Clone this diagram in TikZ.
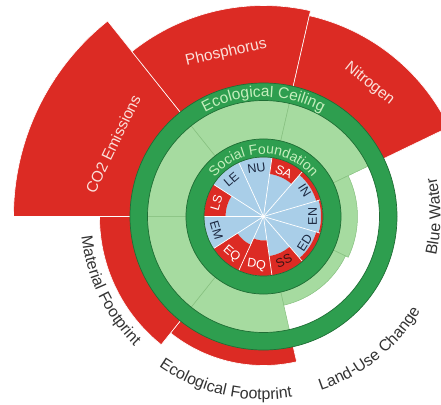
\documentclass[tikz,border=0pt]{standalone}
\usepackage{fontspec}
\setmainfont{Liberation Sans}
\usetikzlibrary{decorations.text}
\definecolor{rouge}{HTML}{DC2B24}
\definecolor{rougesombre}{HTML}{3A1414}
\definecolor{vertfonce}{HTML}{2E9E4F}
\definecolor{vertsombre}{HTML}{1F6E35}
\definecolor{vertclair}{HTML}{A6DBA0}
\definecolor{vertligne}{HTML}{86C07F}
\definecolor{vertpale}{HTML}{C4EEBC}
\definecolor{bleuclair}{HTML}{A9CEE8}
\definecolor{bleunuit}{HTML}{1C2840}
\definecolor{rose}{HTML}{FBE0DA}
\definecolor{grisfonce}{HTML}{333333}
\newcommand{\secteur}[4]{(#1:#3pt) arc[start angle=#1, end angle=#2, radius=#3pt] -- (#2:#4pt) arc[start angle=#2, end angle=#1, radius=#4pt] -- cycle}
\newcommand{\policeext}{\fontsize{16}{16}\selectfont}
\newcommand{\policeanneau}{\fontsize{15.5}{15.5}\selectfont}
\newcommand{\policesociale}{\fontsize{14}{14}\selectfont}
\tikzset{
  depassement/.style={fill=rouge, draw=white, line width=0.6pt},
  espacesur/.style={fill=vertclair, draw=vertligne, line width=0.5pt},
  anneau/.style={fill=vertfonce, draw=vertsombre, line width=0.7pt, even odd rule},
  rayon/.style={draw=white, line width=0.7pt},
  etiquette/.style={font=\fontsize{15.5}{16}\selectfont, text=rose, inner sep=0pt},
  sigle/.style={font=\fontsize{12.5}{13}\selectfont, inner sep=0pt},
  arctexte/.style 2 args={decorate, decoration={text along path, text align=center, text color=#1, text={#2}}}
}
\begin{document}
\begin{tikzpicture}
  \useasboundingbox (-263.5pt,-187.5pt) rectangle (177.5pt,216.5pt);
  \coordinate (centre) at (0,0);
  % plafond : 7 secteurs, depassement en rouge
  \foreach \i/\r in {0/250,1/211,2/206,3/94,4/91,5/149,6/164}{
    \pgfmathsetmacro\fin{180-\i*51.4286}
    \pgfmathsetmacro\debut{\fin-51.4286}
    \pgfmathsetmacro\rv{min(\r,117)}
    \ifdim\r pt>117pt \path[depassement] \secteur{\debut}{\fin}{117}{\r}; \fi
    \path[espacesur] \secteur{\debut}{\fin}{77.5}{\rv};
  }
  \draw[anneau] (centre) circle (133.5pt) (centre) circle (116pt);
  % plancher social : 11 secteurs
  \foreach \k/\lab/\rr/\col in {0/NU/59.5/bleunuit,1/SA/43/white,2/IN/55/bleunuit,3/EN/57.5/bleunuit,4/ED/55/bleunuit,5/SS/40/rougesombre,6/DQ/24/white,7/EQ/31/white,8/EM/59.5/bleunuit,9/LS/38/white,10/LE/59.5/bleunuit}{
    \pgfmathsetmacro\c{98.1818-\k*32.7273}
    \pgfmathsetmacro\ga{\c-16.3636}
    \pgfmathsetmacro\dr{\c+16.3636}
    \fill[bleuclair] (centre) -- (\ga:\rr pt) arc[start angle=\ga, end angle=\dr, radius=\rr pt] -- cycle;
    \fill[rouge] \secteur{\ga}{\dr}{\rr}{59.5};
    \pgfmathsetmacro\rot{(\k>2 && \k<9) ? \c+90 : \c-90}
    \node[sigle, text=\col, rotate=\rot] (\lab) at (\c:49pt) {\lab};
  }
  \foreach \k in {0,...,10}
    \draw[rayon] (centre) -- (\k*32.7273+16.3636:59.5pt);
  \fill[white] (centre) circle (1.2pt);
  \draw[anneau] (centre) circle (77.5pt) (centre) circle (59.5pt);
  % textes
  \path[arctexte={vertpale}{|\policeanneau|Ecological Ceiling}] (170:119.5pt) arc[start angle=170, end angle=10, radius=119.5pt];
  \path[arctexte={vertpale}{|\policesociale|Social Foundation}] (170:62.5pt) arc[start angle=170, end angle=10, radius=62.5pt];
  \node[etiquette, rotate=64.29] (co2) at (154.29:167pt) {CO2 Emissions};
  \node[etiquette, rotate=12.86] (phosphore) at (102.86:168pt) {Phosphorus};
  \node[etiquette, rotate=-38.57] (azote) at (51.43:170pt) {Nitrogen};
  \path[arctexte={grisfonce}{|\policeext|Blue Water}] (-60:177pt) arc[start angle=-60, end angle=60, radius=177pt];
  \path[arctexte={grisfonce}{|\policeext|Land-Use Change}] (-111.43:183pt) arc[start angle=-111.43, end angle=8.57, radius=183pt];
  \path[arctexte={grisfonce}{|\policeext|Ecological Footprint}] (-162.86:183pt) arc[start angle=-162.86, end angle=-42.86, radius=183pt];
  \path[arctexte={grisfonce}{|\policeext|Material Footprint}] (-214.29:183pt) arc[start angle=-214.29, end angle=-94.29, radius=183pt];
\end{tikzpicture}
\end{document}
